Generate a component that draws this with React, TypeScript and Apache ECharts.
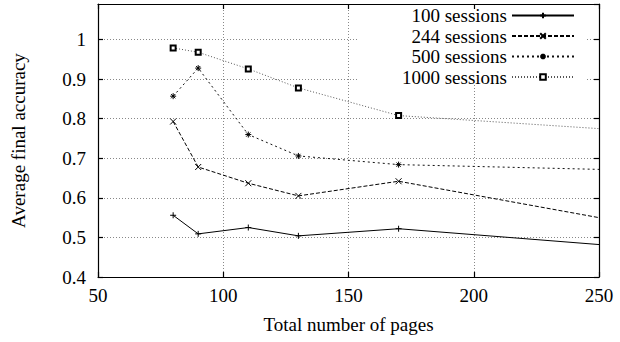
import React, { useEffect, useRef } from "react";
import * as echarts from "echarts";

const pages = [80, 90, 110, 130, 170, 250];
const s100 = [0.556, 0.509, 0.525, 0.504, 0.522, 0.482];
const s244 = [0.793, 0.678, 0.637, 0.605, 0.642, 0.55];
const s500 = [0.857, 0.928, 0.76, 0.706, 0.684, 0.672];
const s1000 = [0.979, 0.968, 0.926, 0.878, 0.808, 0.775];
const seriesNames = ["100 sessions", "244 sessions", "500 sessions", "1000 sessions"];
const xTitle = "Total number of pages";
const yTitle = "Average final accuracy";

const FONT = "Liberation Serif";

const PLUS = "path://M0,5L10,5M5,0L5,10";
const CROSS = "path://M0,0L10,10M10,0L0,10";
const STAR = "path://M0,5L10,5M5,0L5,10M1.5,1.5L8.5,8.5M8.5,1.5L1.5,8.5";

function toData(vals: number[]) {
  return vals.map((v, i) =>
    pages[i] >= 250 ? { value: [pages[i], v], symbol: "none" } : { value: [pages[i], v] }
  );
}

export default function App() {
  const ref = useRef<HTMLDivElement>(null);
  useEffect(() => {
    document.body.style.margin = "0";
    const chart = echarts.init(ref.current!, null, { renderer: "svg" });
    const axisCommon = {
      type: "value" as const,
      axisLine: { show: true, lineStyle: { color: "#000", width: 1.2 } },
      axisTick: { show: true, inside: true, length: 5, lineStyle: { color: "#000", width: 1.2 } },
    };
    const grid = {
      show: true,
      type: [1, 2],
      color: "#888",
      width: 1,
    };
    const mk = (
      name: string,
      vals: number[],
      symbol: string,
      size: number,
      dash: any,
      color: string
    ) => ({
      name,
      type: "line",
      data: toData(vals),
      symbol,
      symbolSize: size,
      showSymbol: true,
      lineStyle: { color, width: 1, type: dash },
      itemStyle: {
        color: "#000",
        borderColor: "#000",
        borderWidth: 1,
      },
      emphasis: { disabled: true },
      z: 3,
    });
    chart.setOption({
      animation: false,
      backgroundColor: "#fff",
      textStyle: { fontFamily: FONT },
      grid: { left: 98, right: 21, top: 4, bottom: 65 },
      graphic: {
        elements: [
          {
            type: "rect",
            shape: { x: 357, y: 10, width: 230, height: 75 },
            style: { fill: "#fff" },
            z: 1,
            silent: true,
          },
        ],
      },
      legend: {
        data: seriesNames,
        orient: "vertical",
        align: "right",
        right: 45,
        top: 6,
        padding: 0,
        itemWidth: 62,
        itemHeight: 7,
        itemGap: 1.5,
        selectedMode: false,
        textStyle: { fontSize: 19, fontFamily: FONT, color: "#000" },
      },
      xAxis: [
        {
          ...axisCommon,
          min: 50,
          max: 250,
          interval: 50,
          name: xTitle,
          nameLocation: "middle",
          nameGap: 38,
          nameTextStyle: { fontSize: 19, fontFamily: FONT, color: "#000" },
          axisLabel: { fontSize: 19, fontFamily: FONT, color: "#000", margin: 9 },
          splitLine: { show: true, lineStyle: grid },
        },
        {
          ...axisCommon,
          position: "top",
          min: 50,
          max: 250,
          interval: 50,
          axisLabel: { show: false },
          splitLine: { show: false },
        },
      ],
      yAxis: [
        {
          ...axisCommon,
          min: 0.4,
          max: 1.09,
          interval: 0.1,
          name: yTitle,
          nameLocation: "middle",
          nameRotate: 90,
          nameGap: 70,
          nameTextStyle: { fontSize: 19, fontFamily: FONT, color: "#000" },
          axisLabel: {
            fontSize: 19,
            fontFamily: FONT,
            color: "#000",
            margin: 12,
            showMaxLabel: false,
          },
          splitLine: { show: true, lineStyle: grid },
        },
        {
          ...axisCommon,
          position: "right",
          min: 0.4,
          max: 1.09,
          interval: 0.1,
          axisLabel: { show: false },
          splitLine: { show: false },
        },
      ],
      series: [
        mk(seriesNames[0], s100, PLUS, 6, "solid", "#000"),
        mk(seriesNames[1], s244, CROSS, 6, [4, 2], "#000"),
        mk(seriesNames[2], s500, STAR, 6, [2, 3], "#111"),
        mk(seriesNames[3], s1000, "emptyRect", 5, [1, 2], "#555"),
      ],
    });
    return () => chart.dispose();
  }, []);
  return <div ref={ref} style={{ width: 620, height: 342 }} />;
}
